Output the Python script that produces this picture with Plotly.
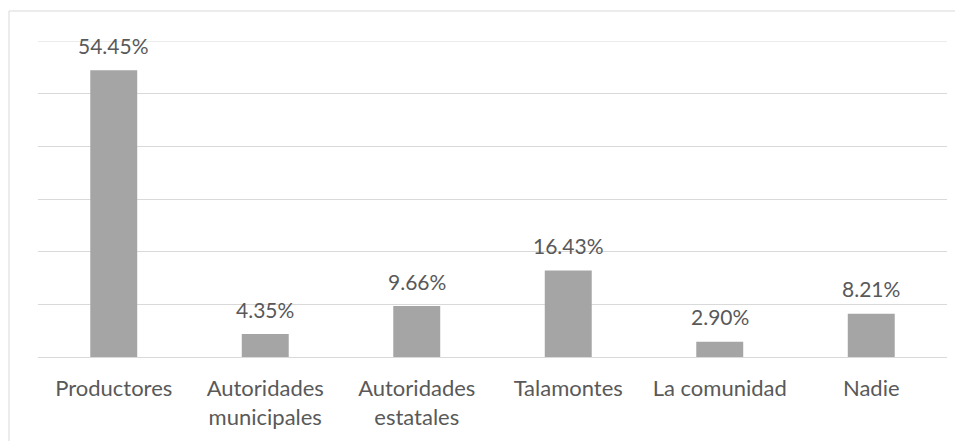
import plotly.graph_objects as go

categories = ["Productores", "Autoridades<br>municipales", "Autoridades<br>estatales",
              "Talamontes", "La comunidad", "Nadie"]
values = [54.45, 4.35, 9.66, 16.43, 2.90, 8.21]
labels = [f"{v:.2f}%" for v in values]
y_max = 60

# page body has an 8px margin, so the figure is drawn 8px in from the window edge
OFF = 8
W, H = 963 - OFF, 441 - OFF
L, R, T, B = 38 - OFF, 16, 41 - OFF, 84
pw, ph = W - L - R, H - T - B

fig = go.Figure()
fig.add_trace(go.Bar(x=categories, y=values, marker=dict(color="#A5A5A5", line=dict(width=0)),
                     hoverinfo="skip"))

for c, v, t in zip(categories, values, labels):
    fig.add_annotation(x=c, y=v, text=t, showarrow=False, yanchor="middle", yshift=25,
                       font=dict(family="Lato", size=21, color="#595959"))

# top gridline (at the axis maximum, which plotly leaves out)
fig.add_shape(type="line", xref="paper", yref="y", x0=0, x1=1, y0=y_max, y1=y_max,
              line=dict(color="#D9D9D9", width=1), layer="below")

# outer chart border (light grey)
fig.add_shape(type="rect", xref="paper", yref="paper",
              x0=(9 - OFF - L) / pw, x1=(W + 10 - L) / pw,
              y0=-(H + 10 - T - ph) / ph, y1=(H - (11 - OFF) - B) / ph,
              line=dict(color="#D9D9D9", width=1), fillcolor="rgba(0,0,0,0)", layer="below")

fig.update_layout(
    width=W, height=H,
    margin=dict(l=L, r=R, t=T, b=B),
    paper_bgcolor="white", plot_bgcolor="white",
    bargap=0.69, showlegend=False,
    font=dict(family="Lato", size=22, color="#595959"),
    xaxis=dict(showgrid=False, showline=False, ticks="outside", ticklen=0,
               tickcolor="white", ticklabelstandoff=12,
               tickfont=dict(family="Lato", size=22, color="#595959")),
    yaxis=dict(range=[0, y_max], tick0=0, dtick=10, showgrid=True, gridcolor="#D9D9D9", gridwidth=1,
               showticklabels=False, zeroline=True, zerolinecolor="#D9D9D9", zerolinewidth=1,
               showline=False),
)

fig.write_html("out.html")
